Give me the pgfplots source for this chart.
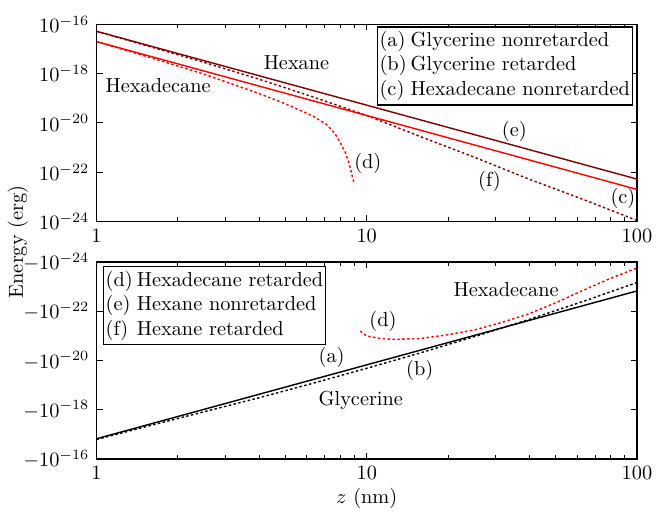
\documentclass[border=0pt]{standalone}
\usepackage{pgfplots}
\pgfplotsset{compat=1.18}
\definecolor{darkred}{RGB}{128,0,0}
\definecolor{myred}{RGB}{255,0,0}
\begin{document}
\begin{tikzpicture}
\pgfplotsset{
  every axis/.append style={
    scale only axis, width=266pt, height=97pt,
    xmode=log, ymode=log, xmin=1, xmax=100, ymin=1e-24, ymax=1e-16,
    xtick={1,10,100}, xticklabels={1,10,100},
    ytick={1e-24,1e-22,1e-20,1e-18,1e-16},
    yminorticks=false,
    tick align=inside, major tick length=3pt, minor tick length=2pt,
    axis line style={line width=0.8pt},
    tick style={black, line width=0.5pt},
  },
  nr/.style={line width=0.7pt},
  rt/.style={line width=0.7pt, dash pattern=on 1.2pt off 1.2pt},
}
% ---------------- top panel ----------------
\begin{axis}[name=top]
% (e) Hexane nonretarded
\addplot[darkred, nr] coordinates {(1,5.25e-17) (10,5.25e-20) (100,5.25e-23)};
% (f) Hexane retarded
\addplot[darkred, rt] coordinates {
(1,5.25e-17) (1.585,1.23e-17) (2.512,2.82e-18) (3.981,6.03e-19) (6.310,1.148e-19)
(10,2.0e-20) (15.85,2.75e-21) (25.12,3.98e-22) (39.81,5.25e-23) (63.10,7.94e-24) (100,1.10e-24)};
% (c) Hexadecane nonretarded
\addplot[myred, nr] coordinates {(1,2.0e-17) (10,2.0e-20) (100,2.0e-23)};
% (d) Hexadecane retarded (positive part)
\addplot[myred, rt] coordinates {
(1,2.0e-17) (1.585,4.47e-18) (2.512,9.33e-19) (3.981,1.585e-19) (5.012,5.89e-20)
(6.310,1.905e-20) (7.079,8.91e-21) (7.586,3.98e-21) (7.943,1.78e-21) (8.318,6.61e-22)
(8.610,2.24e-22) (8.790,8.71e-23) (8.954,3.98e-23)};
\node at (axis description cs:0.370,0.808) {Hexane};
\node at (axis description cs:0.114,0.688) {Hexadecane};
\node at (axis description cs:0.502,0.293) {(d)};
\node at (axis description cs:0.773,0.455) {(e)};
\node at (axis description cs:0.727,0.202) {(f)};
\node at (axis description cs:0.974,0.116) {(c)};
\node[draw, fill=white, anchor=north east, inner sep=1.2pt, line width=0.6pt, xshift=-2pt, yshift=-1pt]
  at (axis description cs:1,1) {\begin{tabular}{@{}l@{\hspace{2pt}}l@{}}
  (a)&Glycerine nonretarded\\ (b)&Glycerine retarded\\ (c)&Hexadecane nonretarded\end{tabular}};
\end{axis}
% ---------------- bottom panel ----------------
\begin{axis}[at={(0,-117pt)}, y dir=reverse,
  yticklabels={$-10^{-24}$,$-10^{-22}$,$-10^{-20}$,$-10^{-18}$,$-10^{-16}$},
  xlabel={$z$ (nm)}, xlabel style={yshift=3pt}]
% (a) Glycerine nonretarded
\addplot[black, nr] coordinates {(1,1.48e-17) (10,1.48e-20) (100,1.48e-23)};
% (b) Glycerine retarded
\addplot[black, rt] coordinates {
(1,1.585e-17) (1.585,4.27e-18) (2.512,1.175e-18) (3.981,3.24e-19) (6.310,8.32e-20)
(10,2.04e-20) (15.85,4.79e-21) (25.12,1.047e-21) (39.81,2.14e-22) (63.10,3.98e-23) (100,6.76e-24)};
% (d) Hexadecane retarded (negative part, magnitude)
\addplot[myred, rt] coordinates {
(9.46,6.31e-22) (10,1.0e-21) (11.22,1.26e-21) (12.59,1.38e-21) (15.85,1.26e-21)
(19.95,8.91e-22) (25.12,5.62e-22) (31.62,2.82e-22) (39.81,1.26e-22) (50.12,4.47e-23)
(63.10,1.41e-23) (79.43,4.68e-24) (100,1.74e-24)};
\node at (axis description cs:0.758,0.860) {Hexadecane};
\node at (axis description cs:0.530,0.697) {(d)};
\node at (axis description cs:0.435,0.515) {(a)};
\node at (axis description cs:0.598,0.448) {(b)};
\node at (axis description cs:0.489,0.298) {Glycerine};
\node[draw, fill=white, anchor=north west, inner sep=1.2pt, line width=0.6pt, xshift=3pt, yshift=-2pt]
  at (axis description cs:0,1) {\begin{tabular}{@{}l@{\hspace{2pt}}l@{}}
  (d)&Hexadecane retarded\\ (e)&Hexane nonretarded\\ (f)&Hexane retarded\end{tabular}};
\end{axis}
\node[rotate=90] at (-38.7pt,-10pt) {Energy (erg)};
\path (-47.5pt,109pt) (275.3pt,-140pt);
\end{tikzpicture}
\end{document}
